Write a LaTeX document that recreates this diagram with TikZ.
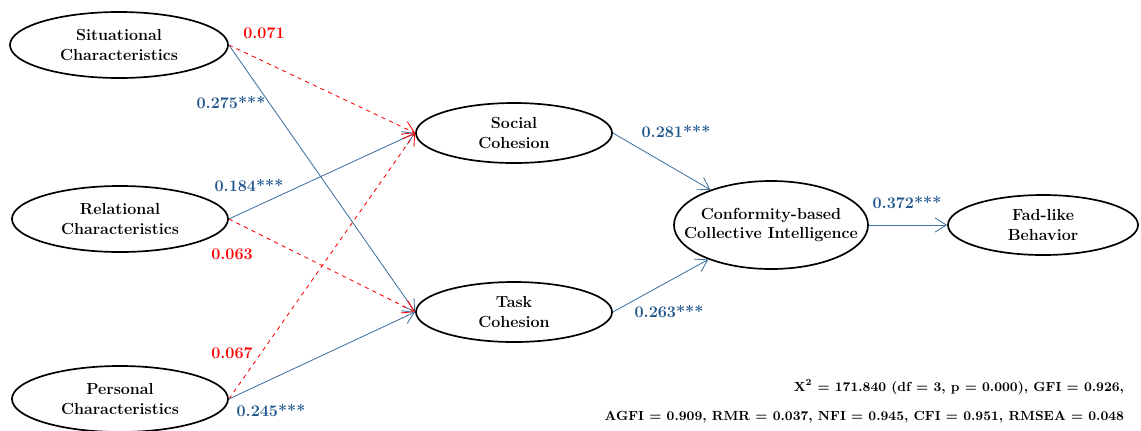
\documentclass[tikz,border=0pt]{standalone}
\usepackage{tikz}
\usetikzlibrary{shapes.geometric,arrows.meta}

\definecolor{pathblue}{RGB}{65,113,160}
\definecolor{coefblue}{RGB}{30,85,140}
\definecolor{coefred}{RGB}{255,0,0}

\tikzset{
  construct/.style={ellipse,draw,line width=1.2pt,align=center,
    font=\bfseries\fontsize{11.4}{14}\selectfont,inner sep=0pt},
  sig/.style={draw=pathblue,line width=0.6pt,-{Straight Barb[length=8pt,width=10pt]}},
  nonsig/.style={draw=coefred,dashed,line width=0.6pt,-{Straight Barb[length=8pt,width=10pt]}},
  blabel/.style={text=coefblue,font=\bfseries\fontsize{11.5}{13}\selectfont},
  rlabel/.style={text=coefred,font=\bfseries\fontsize{11.5}{13}\selectfont},
  fit stats/.style={anchor=east,font=\bfseries\fontsize{9.4}{12}\selectfont}
}

\begin{document}
\begin{tikzpicture}[x=0.025cm,y=-0.025cm]
    \useasboundingbox (0,0) rectangle (1141,430);

    \node[construct,minimum width=5.45cm,minimum height=1.65cm] (sit) at (119,45) {Situational\\Characteristics};
    \node[construct,minimum width=5.4cm,minimum height=1.65cm] (rel) at (120,219) {Relational\\Characteristics};
    \node[construct,minimum width=5.4cm,minimum height=1.65cm] (per) at (120,399) {Personal\\Characteristics};
    \node[construct,minimum width=4.9cm,minimum height=1.5cm] (soc) at (514,133) {Social\\Cohesion};
    \node[construct,minimum width=4.9cm,minimum height=1.5cm] (task) at (514,312) {Task\\Cohesion};
    \node[construct,inner xsep=-14pt,minimum width=4.85cm,minimum height=2.2cm] (ci) at (771,225) {Conformity-based\\Collective Intelligence};
    \node[construct,minimum width=4.75cm,minimum height=1.5cm] (fad) at (1043,225) {Fad-like\\Behavior};

    % paths from the characteristics
    \draw[nonsig] (sit.east) -- (soc.west);
    \draw[sig] (sit.east) -- (task.west);
    \draw[sig] (rel.east) -- (soc.west);
    \draw[nonsig] (rel.east) -- (task.west);
    \draw[nonsig] (per.east) -- (soc.west);
    \draw[sig] (per.east) -- (task.west);

    \draw[sig] (soc.east) -- (ci);
    \draw[sig] (task.east) -- (ci);
    \draw[sig] (ci.east) -- (fad.west);

    \node[rlabel] (c1) at (264,33) {0.071};
    \node[blabel] (c2) at (231,103) {0.275***};
    \node[blabel] (c3) at (249,186) {0.184***};
    \node[rlabel] (c4) at (232,254) {0.063};
    \node[rlabel] (c5) at (232,353) {0.067};
    \node[blabel] (c6) at (271,411) {0.245***};
    \node[blabel] (c7) at (676,132) {0.281***};
    \node[blabel] (c8) at (669,312) {0.263***};
    \node[blabel] (c9) at (907,203) {0.372***};

    \node[fit stats] (gof1) at (1129,387) {X\textsuperscript{2} = 171.840 (df = 3, p = 0.000), GFI = 0.926,};
    \node[fit stats] (gof2) at (1129,417) {AGFI = 0.909, RMR = 0.037, NFI = 0.945, CFI = 0.951, RMSEA = 0.048};
\end{tikzpicture}
\end{document}
